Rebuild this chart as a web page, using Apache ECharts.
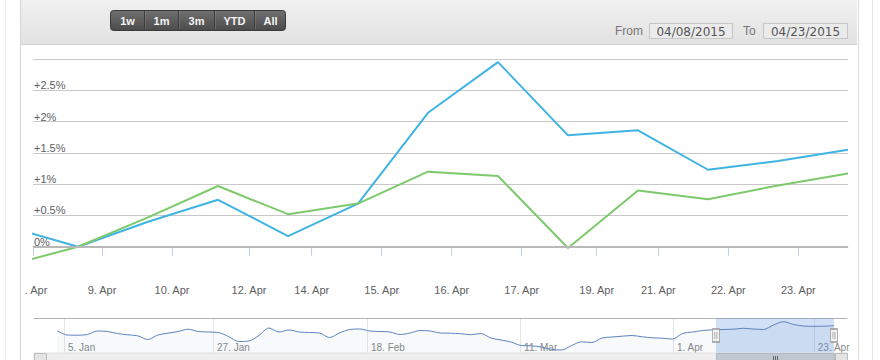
<!DOCTYPE html>
<html><head><meta charset="utf-8">
<script src="https://cdn.jsdelivr.net/npm/echarts@6/dist/echarts.min.js"></script>
<style>html,body{margin:0;padding:0;background:#fff}#c{width:880px;height:360px}</style>
</head><body><div id="c"></div>
<script>
// ---- data ----
const dates = ['2015-04-07','2015-04-08','2015-04-09','2015-04-10','2015-04-13','2015-04-14','2015-04-15','2015-04-16','2015-04-17','2015-04-20','2015-04-21','2015-04-22','2015-04-23'];
const blueValues  = [0.32, 0, 0.40, 0.75, 0.17, 0.69, 2.14, 2.95, 1.78, 1.86, 1.23, 1.37, 1.55];
const greenValues = [-0.30, 0, 0.47, 0.97, 0.52, 0.69, 1.20, 1.13, -0.02, 0.90, 0.76, 0.98, 1.17];
const mainTickPos = [0.357, 1.343, 2.343, 3.443, 4.339, 5.339, 6.339, 7.339, 8.41, 9.29, 10.29, 11.29];
const mainTickLabels = ['8. Apr','9. Apr','10. Apr','12. Apr','14. Apr','15. Apr','16. Apr','17. Apr','19. Apr','21. Apr','22. Apr','23. Apr'];
const yTicks = [0, 0.5, 1, 1.5, 2, 2.5];
const navValues = [22.3,18,17.8,18.5,22,21.5,19.5,18.2,17.2,13.5,18,19.8,21.5,23.8,21.5,21,20.5,16.5,11.5,12,17.5,25,21,23,21,20.5,20,15.5,20,23.5,24,22,21.5,21,18.5,20,22.5,22,20,19.8,19.3,18.3,19.5,15,13,11,7.5,7.2,6,3.7,3,7.5,11.2,10.5,15,16,16.8,17.5,16.2,15.2,14.8,14,19.5,21,22.5,23.2,23.5,23.8,24.7,24,23.5,28,31.3,28.5,27,26.7,26.8,27.3];
const navTickPos = [0.69, 15.46, 30.72, 45.89, 61.05, 75.0];
const navTickLabels = ['5. Jan','27. Jan','18. Feb','11. Mar','1. Apr','23. Apr'];
const navRange = [65.3, 77];
const rangeButtons = ['1w','1m','3m','YTD','All'];
const fromText = '04/08/2015', toText = '04/23/2015';

const FONT = '"Liberation Sans", Arial, sans-serif';
const chart = echarts.init(document.getElementById('c'), null, {renderer:'svg', width:880, height:360});

const blueData = dates.map((d,i)=>[i, blueValues[i]]);
const greenData = dates.map((d,i)=>[i, greenValues[i]]);
const navData = navValues.map((v,i)=>[i, v]);
const navMin = -2.28, navMax = 78.29;
const navMid = 17.5;

function pick(pos, labels, v){ for(let i=0;i<pos.length;i++){ if(Math.abs(pos[i]-v)<1e-6) return labels[i]; } return ''; }

const handleSym = 'path://M0,0H7V13H0Z M2.5,3V10 M4.5,3V10';

const option = {
  animation:false,
  grid:[
    {left:33, right:32, top:59, bottom:82},
    {left:34, right:33, top:318, height:35}
  ],
  xAxis:[
    {gridIndex:0, type:'value', min:0.357, max:12, offset:-1,
     axisLine:{lineStyle:{color:'#C0D0E0'}},
     axisTick:{length:9, lineStyle:{color:'#C0D0E0'}, customValues:mainTickPos},
     axisLabel:{customValues:mainTickPos, formatter:v=>pick(mainTickPos, mainTickLabels, v), color:'#606060', fontSize:11, fontFamily:FONT, margin:7, showMinLabel:true},
     splitLine:{show:false}},
    {gridIndex:1, type:'value', min:navMin, max:navMax,
     axisLine:{show:false},
     axisTick:{show:false, customValues:navTickPos},
     axisLabel:{customValues:navTickPos, formatter:v=>pick(navTickPos, navTickLabels, v), inside:true, align:'left', padding:[0,0,0,4], margin:1, color:'#888', fontSize:10, fontFamily:FONT},
     splitLine:{show:true, lineStyle:{color:'#e6e6e6'}}},
    {gridIndex:1, type:'value', position:'top', min:navMin, max:navMax,
     axisLine:{show:true, lineStyle:{color:'#b2b1b6'}}, axisTick:{show:false}, axisLabel:{show:false}, splitLine:{show:false}}
  ],
  yAxis:[
    {gridIndex:0, type:'value', min:-0.5, max:3, interval:0.5,
     axisLine:{show:false}, axisTick:{show:false},
     axisLabel:{inside:true, margin:1, verticalAlign:'bottom', lineHeight:10, showMinLabel:false, showMaxLabel:false,
       formatter:v=> yTicks.indexOf(v)<0 ? '' : (v===0 ? '0%' : '+' + v + '%'),
       color:'#606060', fontSize:11, fontFamily:FONT},
     splitLine:{lineStyle:{color:'#c8c8c8'}, showMinLine:false}},
    {gridIndex:1, type:'value', min:0, max:35, show:false}
  ],
  series:[
    {type:'line', xAxisIndex:0, yAxisIndex:0, data:blueData, showSymbol:false, silent:true,
     lineStyle:{width:2, color:'#3fb3e4'}, itemStyle:{color:'#3fb3e4'},
     markLine:{silent:true, symbol:'none', label:{show:false}, lineStyle:{color:'#b8b8b8', width:2, type:'solid'}, data:[{yAxis:0}]}},
    {type:'line', xAxisIndex:0, yAxisIndex:0, data:greenData, showSymbol:false, silent:true,
     lineStyle:{width:2, color:'#7dc96c'}, itemStyle:{color:'#7dc96c'}},
    {type:'line', xAxisIndex:1, yAxisIndex:1, data:navData, showSymbol:false, silent:true, smooth:0.3,
     lineStyle:{width:1, color:'#5d84bd'}, itemStyle:{color:'#5d84bd'},
     areaStyle:{color:'rgba(69,114,167,0.06)'},
     markArea:{silent:true, itemStyle:{color:'rgba(102,153,221,0.3)'}, data:[[{xAxis:navRange[0]},{xAxis:navRange[1]}]]},
     markPoint:{silent:true, symbol:handleSym, symbolSize:[7,13], label:{show:false},
       itemStyle:{color:'#f2f2f2', borderColor:'#999', borderWidth:1},
       data:[{coord:[navRange[0], navMid]},{coord:[navRange[1], navMid]}]}}
  ]
};
chart.setOption(option);

// ---- decoration (toolbar, frame, scrollbar) ----
const p0 = chart.convertToPixel({gridIndex:1}, [navRange[0], 0]);
const p1 = chart.convertToPixel({gridIndex:1}, [navRange[1], 0]);
const g = [];
g.push({type:'rect', z:1, shape:{x:21, y:0, width:836, height:44},
  style:{fill:new echarts.graphic.LinearGradient(0,0,0,1,[{offset:0,color:'#f0f0f0'},{offset:1,color:'#e2e2e2'}])}});
g.push({type:'line', z:2, shape:{x1:21, y1:44.5, x2:857, y2:44.5}, style:{stroke:'#d2d2d2', lineWidth:1}});
// buttons
const btnEdges = [110,144,178,214,254,286];
g.push({type:'rect', z:3, shape:{x:110.5, y:10.5, width:175, height:20, r:3},
  style:{fill:new echarts.graphic.LinearGradient(0,0,0,1,[{offset:0,color:'#707070'},{offset:1,color:'#4b4b4b'}]), stroke:'#3a3a3a', lineWidth:1}});
for(let i=1;i<btnEdges.length-1;i++){
  g.push({type:'line', z:4, shape:{x1:btnEdges[i]+0.5, y1:11, x2:btnEdges[i]+0.5, y2:30}, style:{stroke:'#3c3c3c', lineWidth:1}});
  g.push({type:'line', z:4, shape:{x1:btnEdges[i]+1.5, y1:11, x2:btnEdges[i]+1.5, y2:30}, style:{stroke:'rgba(255,255,255,0.12)', lineWidth:1}});
}
rangeButtons.forEach((t,i)=>{
  g.push({type:'text', z:5, style:{text:t, x:(btnEdges[i]+btnEdges[i+1])/2+0.5, y:21, align:'center', verticalAlign:'middle',
    fill:'#f4f4f4', font:'bold 11px '+FONT, textShadowColor:'rgba(0,0,0,0.6)', textShadowOffsetY:-1, textShadowBlur:0}});
});
// from / to
g.push({type:'text', z:5, style:{text:'From', x:615, y:31, align:'left', verticalAlign:'middle', fill:'#777', font:'12px '+FONT}});
g.push({type:'rect', z:4, shape:{x:649.5, y:23.5, width:83, height:15}, style:{fill:'#ebebeb', stroke:'#c6c6c6', lineWidth:1}});
g.push({type:'text', z:5, style:{text:fromText, x:691, y:31.5, align:'center', verticalAlign:'middle', fill:'#555', font:'12px "DejaVu Sans", sans-serif'}});
g.push({type:'text', z:5, style:{text:'To', x:743, y:31, align:'left', verticalAlign:'middle', fill:'#777', font:'12px '+FONT}});
g.push({type:'rect', z:4, shape:{x:763.5, y:23.5, width:84, height:15}, style:{fill:'#ebebeb', stroke:'#c6c6c6', lineWidth:1}});
g.push({type:'text', z:5, style:{text:toText, x:805.5, y:31.5, align:'center', verticalAlign:'middle', fill:'#555', font:'12px "DejaVu Sans", sans-serif'}});
// frame
g.push({type:'rect', z:100, shape:{x:0, y:45, width:25, height:315}, style:{fill:'#fff'}});
g.push({type:'line', z:101, shape:{x1:20.5, y1:0, x2:20.5, y2:360}, style:{stroke:'#d6d6d6', lineWidth:1}});
g.push({type:'line', z:101, shape:{x1:5.5, y1:0, x2:5.5, y2:360}, style:{stroke:'#ebebeb', lineWidth:1}});
g.push({type:'line', z:101, shape:{x1:858.5, y1:0, x2:858.5, y2:360}, style:{stroke:'#dcdcdc', lineWidth:1}});
g.push({type:'line', z:101, shape:{x1:872.5, y1:0, x2:872.5, y2:360}, style:{stroke:'#e6e6e6', lineWidth:1}});
// scrollbar
g.push({type:'rect', z:10, shape:{x:34, y:353, width:813, height:14}, style:{fill:'#eeeeee', stroke:'#e2e2e2', lineWidth:1}});
g.push({type:'rect', z:11, shape:{x:34.5, y:353.5, width:12, height:14}, style:{fill:'#e4e4e4', stroke:'#bbbbbb', lineWidth:1}});
g.push({type:'rect', z:11, shape:{x:Math.round(p0[0])+0.5, y:353.5, width:Math.round(p1[0]-p0[0]), height:14}, style:{fill:'#bfc8d1', stroke:'#b0b8c2', lineWidth:1}});
const mid = Math.round((p0[0]+p1[0])/2);
[-2,0,2].forEach(d=>g.push({type:'line', z:12, shape:{x1:mid+d+0.5, y1:356, x2:mid+d+0.5, y2:362}, style:{stroke:'#666', lineWidth:1}}));
g.push({type:'rect', z:11, shape:{x:Math.round(p1[0])+1.5, y:353.5, width:12, height:14}, style:{fill:'#e4e4e4', stroke:'#bbbbbb', lineWidth:1}});
chart.setOption({graphic:g});
</script>
</body></html>
